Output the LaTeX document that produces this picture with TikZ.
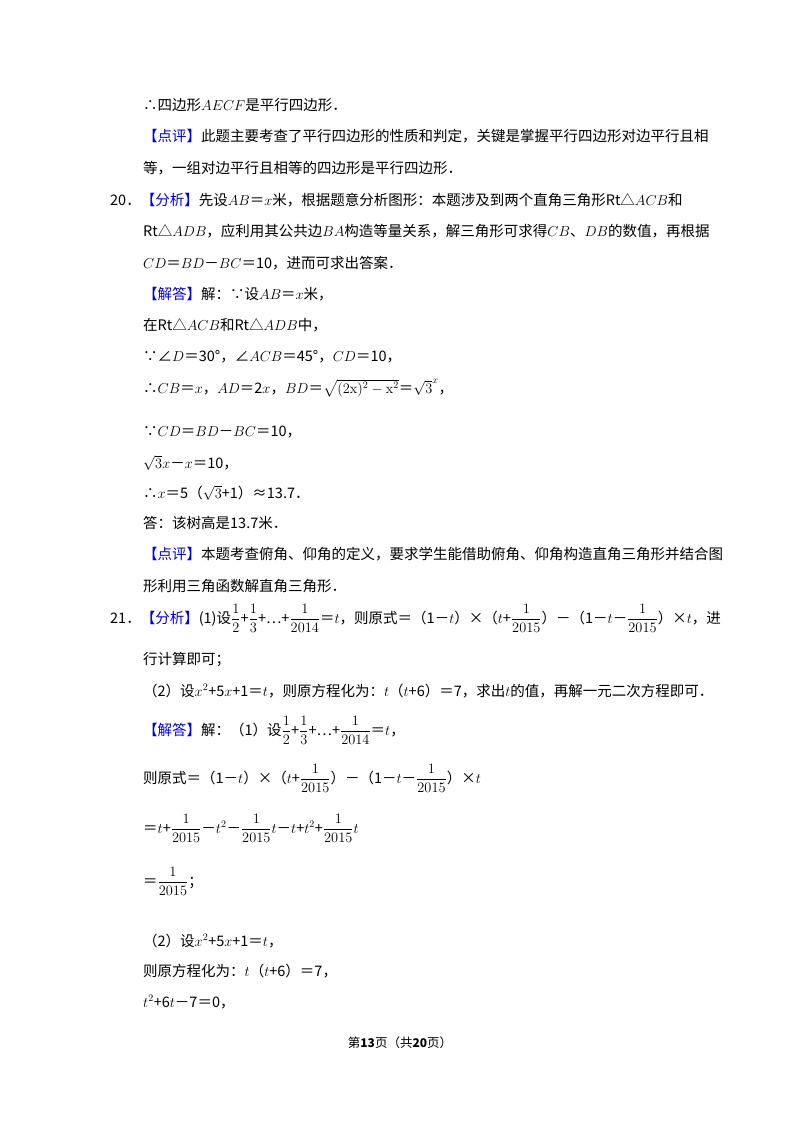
\documentclass[tikz,border=0pt]{standalone}
\usepackage{amsmath}
\usepackage[no-math]{fontspec}
\setmainfont{Noto Sans CJK SC}
\begin{document}
\begin{tikzpicture}[x=1pt,y=-1pt,
  t/.style={anchor=base west,inner sep=0pt,font=\fontsize{14.5}{17}\selectfont}]
\useasboundingbox[fill=white] (0,0) rectangle (800,1132);
\def\b#1{\textcolor[RGB]{0,0,230}{#1}}
\node[t] (l1) at (143,110) {∴四边形$AECF$是平行四边形．};
\node[t] (l2) at (143,141) {\b{【点评】}此题主要考查了平行四边形的性质和判定，关键是掌握平行四边形对边平行且相};
\node[t] (l3) at (143,173) {等，一组对边平行且相等的四边形是平行四边形．};
\node[t] (l4) at (110,205) {20．\b{【分析】}先设$AB$＝$x$米，根据题意分析图形：本题涉及到两个直角三角形Rt△$ACB$和};
\node[t] (l5) at (143,236) {Rt△$ADB$，应利用其公共边$BA$构造等量关系，解三角形可求得$CB$、$DB$的数值，再根据};
\node[t] (l6) at (143,268) {$CD$＝$BD$－$BC$＝10，进而可求出答案．};
\node[t] (l7) at (143,299) {\b{【解答】}解：∵设$AB$＝$x$米，};
\node[t] (l8) at (143,330) {在Rt△$ACB$和Rt△$ADB$中，};
\node[t] (l9) at (143,361) {∵∠$D$＝30°，∠$ACB$＝45°，$CD$＝10，};
\node[t] (l10) at (143,393) {∴$CB$＝$x$，$AD$＝2$x$，$BD$＝$\sqrt{(2\mathrm{x})^2-\mathrm{x}^2}$＝$\sqrt{3}^{x}$，};
\node[t] (l11) at (143,436) {∵$CD$＝$BD$－$BC$＝10，};
\node[t] (l12) at (143,468) {$\sqrt{3}x$－$x$＝10，};
\node[t] (l13) at (143,498) {∴$x$＝5（$\sqrt{3}$+1）≈13.7．};
\node[t] (l14) at (143,528) {答：该树高是13.7米．};
\node[t] (l15) at (143,559) {\b{【点评】}本题考查俯角、仰角的定义，要求学生能借助俯角、仰角构造直角三角形并结合图};
\node[t] (l16) at (143,591) {形利用三角函数解直角三角形．};
\node[t] (l17) at (110,623) {21．\b{【分析】}(1)设$\dfrac{1}{2}$+$\dfrac{1}{3}$+…+$\dfrac{1}{2014}$＝$t$，则原式＝（1－$t$）×（$t$+$\dfrac{1}{2015}$）－（1－$t$－$\dfrac{1}{2015}$）×$t$，进};
\node[t] (l18) at (143,664) {行计算即可；};
\node[t] (l19) at (143,696) {（2）设$x^2$+5$x$+1＝$t$，则原方程化为：$t$（$t$+6）＝7，求出$t$的值，再解一元二次方程即可．};
\node[t] (l20) at (143,735) {\b{【解答】}解：（1）设$\dfrac{1}{2}$+$\dfrac{1}{3}$+…+$\dfrac{1}{2014}$＝$t$，};
\node[t] (l21) at (143,783) {则原式＝（1－$t$）×（$t$+$\dfrac{1}{2015}$）－（1－$t$－$\dfrac{1}{2015}$）×$t$};
\node[t] (l22) at (143,833) {＝$t$+$\dfrac{1}{2015}$－$t^2$－$\dfrac{1}{2015}t$－$t$+$t^2$+$\dfrac{1}{2015}t$};
\node[t] (l23) at (143,886) {＝$\dfrac{1}{2015}$；};
\node[t] (l24) at (143,946) {（2）设$x^2$+5$x$+1＝$t$，};
\node[t] (l25) at (143,976) {则原方程化为：$t$（$t$+6）＝7，};
\node[t] (l26) at (143,1007) {$t^2$+6$t$－7＝0，};
\node[anchor=base,inner sep=0pt,font=\fontsize{12.5}{15}\selectfont] (ft) at (400,1047) {第\textbf{\large 13}页（共\textbf{\large 20}页）};
\end{tikzpicture}
\end{document}
